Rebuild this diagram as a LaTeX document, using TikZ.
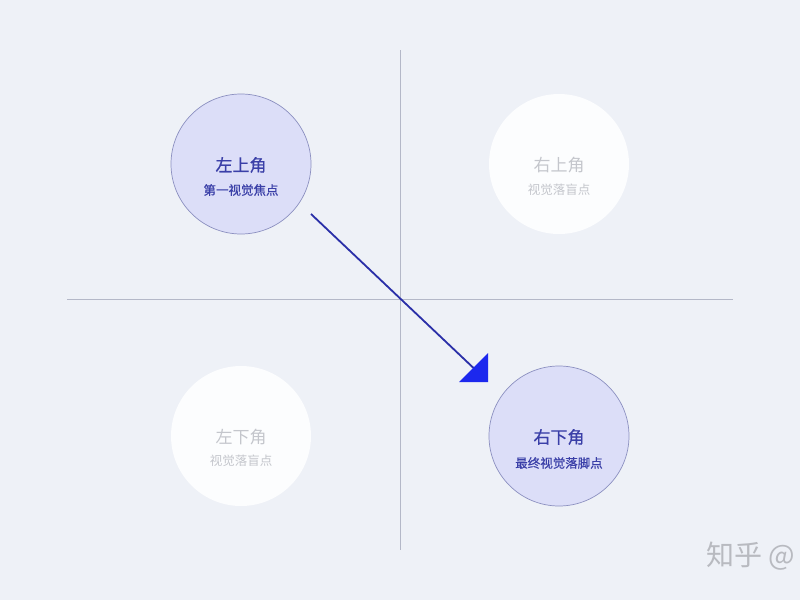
\documentclass[tikz,border=0pt]{standalone}
\usepackage{fontspec}
\usetikzlibrary{calc}
\newfontfamily\cjk{Noto Sans CJK SC}
\newfontfamily\cjkm[FakeBold=0.6]{Noto Sans CJK SC}
\definecolor{bg}{HTML}{EEF1F7}
\definecolor{axis}{HTML}{B4B8C8}
\definecolor{actfill}{HTML}{DCDEF8}
\definecolor{actdraw}{HTML}{8C90C0}
\definecolor{acttext}{HTML}{3A3FA8}
\definecolor{idlefill}{HTML}{FCFDFE}
\definecolor{idletext}{HTML}{C4C6CC}
\definecolor{arrline}{HTML}{2A2FA8}
\definecolor{arrhead}{HTML}{1C28EE}
\definecolor{wm}{HTML}{B8BAC0}
\begin{document}
\begin{tikzpicture}[x=1pt,y=-1pt,
  active/.style={circle,minimum size=140pt,inner sep=0pt,fill=actfill,draw=actdraw,line width=0.7pt},
  idle/.style={circle,minimum size=140pt,inner sep=0pt,fill=idlefill},
  axisline/.style={draw=axis,line width=0.8pt},
  ttl/.style={font=\cjkm\fontsize{17}{20}\selectfont},
  sub/.style={font=\cjkm\fontsize{12.5}{15}\selectfont},
  ittl/.style={font=\cjk\fontsize{17}{20}\selectfont},
  isub/.style={font=\cjk\fontsize{12.5}{15}\selectfont}]
\useasboundingbox (0,0) rectangle (800,600);
\fill[bg] (0,0) rectangle (800,600);
% axes
\coordinate (vt) at (400,50); \coordinate (vb) at (400,550);
\coordinate (hl) at (67,299); \coordinate (hr) at (733,299);
\draw[axisline] (vt) -- (vb);
\draw[axisline] (hl) -- (hr);
% circles
\node[active] (tl) at (241,164) {};
\node[idle] (tr) at (559,164) {};
\node[idle] (bl) at (241,436) {};
\node[active] (br) at (559,436) {};
% texts
\node[ttl,text=acttext] (tlt) at (241,165) {左上角};
\node[sub,text=acttext] (tls) at (241,190) {第一视觉焦点};
\node[ittl,text=idletext] (trt) at (559,165) {右上角};
\node[isub,text=idletext] (trs) at (559,190) {视觉落盲点};
\node[ittl,text=idletext] (blt) at (241,437) {左下角};
\node[isub,text=idletext] (bls) at (241,461) {视觉落盲点};
\node[ttl,text=acttext] (brt) at (559,437) {右下角};
\node[sub,text=acttext] (brs) at (559,463) {最终视觉落脚点};
% arrow
\coordinate (as) at (311,214);
\coordinate (tip) at (488,382);
\coordinate (lend) at ($(tip)+(-6,-6)$);
\draw[arrline,line width=1.8pt] (as) -- (lend);
\fill[arrhead] (tip) -- ++(-29,0) -- ++(29,-29) -- cycle;
% watermark
\node[font=\cjk\fontsize{28}{30}\selectfont,text=wm,anchor=west,inner sep=0pt] (wmk) at (706,556) {知乎 @};
\end{tikzpicture}
\end{document}
